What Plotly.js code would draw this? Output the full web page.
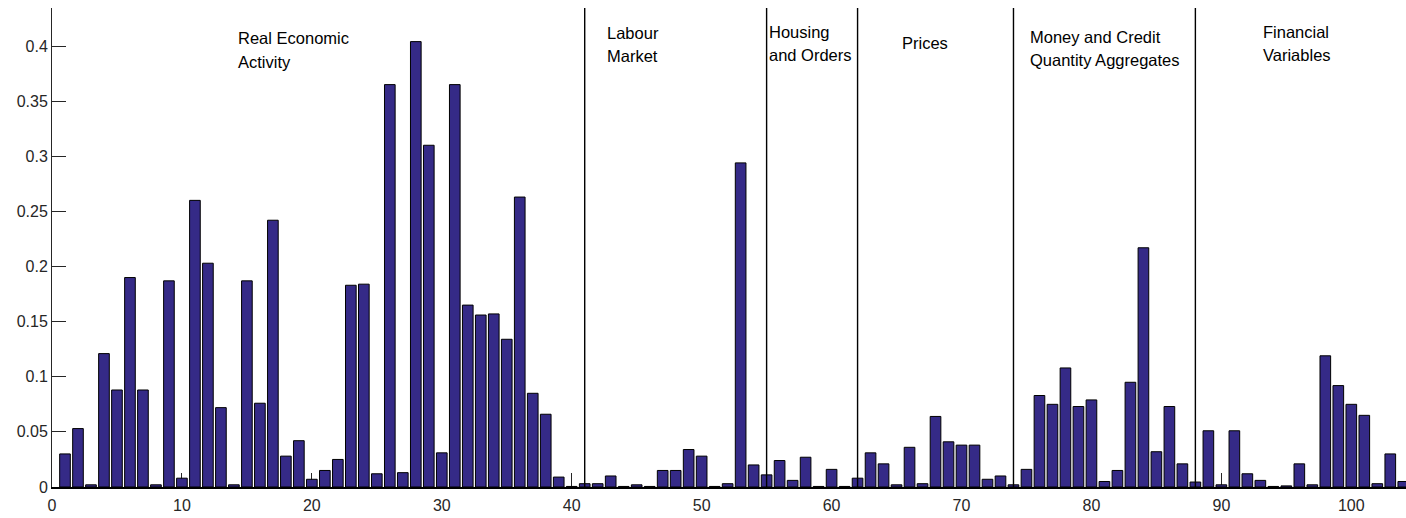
<!DOCTYPE html>
<html>
<head>
<meta charset="utf-8">
<script src="https://cdn.plot.ly/plotly-3.0.1.min.js"></script>
<style>
  html, body { margin: 0; padding: 0; background: #fff; }
  #chart { width: 1406px; height: 518px; }
</style>
</head>
<body>
<div id="chart"></div>
<script>
// Variable index (1..104) and its weight
const variableIndex = Array.from({length: 104}, (_, i) => i + 1);

const weights = [
  0.030, 0.053, 0.002, 0.121, 0.088, 0.190, 0.088, 0.002, 0.187, 0.008,
  0.260, 0.203, 0.072, 0.002, 0.187, 0.076, 0.242, 0.028, 0.042, 0.007,
  0.015, 0.025, 0.183, 0.184, 0.012, 0.365, 0.013, 0.404, 0.310, 0.031,
  0.365, 0.165, 0.156, 0.157, 0.134, 0.263, 0.085, 0.066, 0.009, 0.0005,
  0.003, 0.003, 0.010, 0.0005, 0.002, 0.0005, 0.015, 0.015, 0.034, 0.028,
  0.0005, 0.003, 0.294, 0.020, 0.011, 0.024, 0.006, 0.027, 0.0005, 0.016,
  0.0005, 0.008, 0.031, 0.021, 0.002, 0.036, 0.003, 0.064, 0.041, 0.038,
  0.038, 0.007, 0.010, 0.002, 0.016, 0.083, 0.075, 0.108, 0.073, 0.079,
  0.005, 0.015, 0.095, 0.217, 0.032, 0.073, 0.021, 0.0045, 0.051, 0.002,
  0.051, 0.012, 0.006, 0.0005, 0.001, 0.021, 0.002, 0.119, 0.092, 0.075,
  0.065, 0.003, 0.030, 0.005
];

// Boundaries between variable groups
const groupBoundaries = [41, 55, 62, 74, 88];

// Group names, one entry per text line
const groupLabelLines = [
  ["Real Economic", "Activity"],
  ["Labour", "Market"],
  ["Housing", "and Orders"],
  ["Prices"],
  ["Money and Credit", "Quantity Aggregates"],
  ["Financial", "Variables"]
];

const xTicks = [0, 10, 20, 30, 40, 50, 60, 70, 80, 90, 100];
const yTicks = [0, 0.05, 0.1, 0.15, 0.2, 0.25, 0.3, 0.35, 0.4];
const yTickText = ["0", "0.05", "0.1", "0.15", "0.2", "0.25", "0.3", "0.35", "0.4"];

// Placement of each group label: left edge (x) and first-line centre (y)
const labelAnchor = [
  {x: 14.17, y: 0.4070},
  {x: 42.56, y: 0.4121},
  {x: 55.00, y: 0.4130},
  {x: 65.27, y: 0.4024},
  {x: 75.09, y: 0.4085},
  {x: 93.05, y: 0.4127}
];
const lineStep = 0.0212;

const FONT = "Liberation Sans, Arial, Helvetica, sans-serif";
const AXIS_GREY = "#262626";

const trace = {
  type: "bar",
  x: variableIndex,
  y: weights,
  width: 0.82,
  marker: { color: "#352a87", line: { color: "#000000", width: 1 } },
  hoverinfo: "x+y"
};

const shapes = groupBoundaries.map(b => ({
  type: "line", xref: "x", yref: "paper",
  x0: b, x1: b, y0: 0, y1: 1,
  line: { color: "#000000", width: 1.4 }
}));

const annotations = [];
groupLabelLines.forEach((lines, gi) => {
  lines.forEach((txt, li) => {
    annotations.push({
      text: txt, xref: "x", yref: "y",
      x: labelAnchor[gi].x, y: labelAnchor[gi].y - li * lineStep,
      xanchor: "left", yanchor: "middle", showarrow: false,
      font: { family: FONT, size: 16.5, color: "#000000" }
    });
  });
});

const layout = {
  width: 1406, height: 518,
  margin: { l: 52, r: 0, t: 8, b: 31, pad: 0 },
  paper_bgcolor: "#ffffff", plot_bgcolor: "#ffffff",
  showlegend: false,
  bargap: 0,
  xaxis: {
    range: [0, 104.21], autorange: false,
    tickmode: "array", tickvals: xTicks, ticktext: xTicks.map(String),
    ticks: "inside", ticklen: 14, tickwidth: 1, tickcolor: AXIS_GREY,
    ticklabelstandoff: 3,
    showline: true, linecolor: "#000000", linewidth: 1.5,
    showgrid: false, zeroline: false, mirror: false,
    layer: "below traces", automargin: false,
    tickfont: { family: FONT, size: 16, color: AXIS_GREY }
  },
  yaxis: {
    range: [0, 0.4345], autorange: false,
    tickmode: "array", tickvals: yTicks, ticktext: yTickText,
    ticks: "inside", ticklen: 14, tickwidth: 1, tickcolor: AXIS_GREY,
    showline: true, linecolor: AXIS_GREY, linewidth: 1,
    showgrid: false, zeroline: false, mirror: false,
    layer: "below traces", automargin: false,
    tickfont: { family: FONT, size: 16, color: AXIS_GREY }
  },
  shapes: shapes,
  annotations: annotations
};

Plotly.newPlot("chart", [trace], layout, { displayModeBar: false, staticPlot: true });
</script>
</body>
</html>
